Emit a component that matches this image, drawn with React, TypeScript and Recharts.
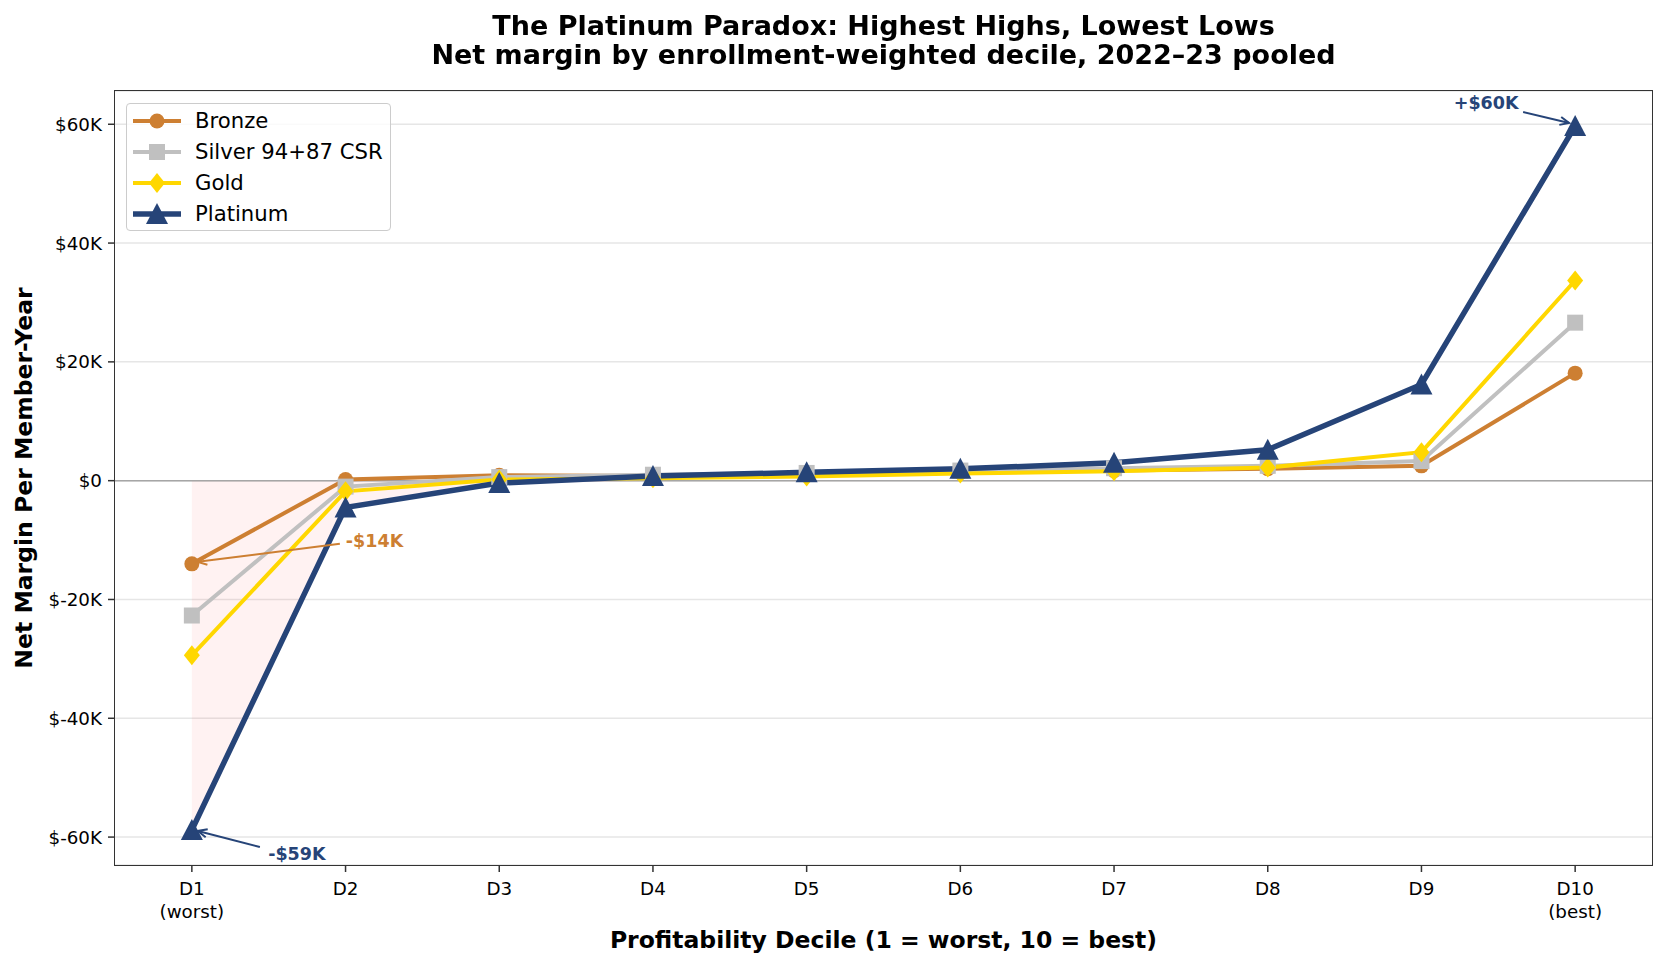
import {
  ComposedChart,
  Line,
  Area,
  XAxis,
  YAxis,
  CartesianGrid,
  ReferenceLine,
  ReferenceDot,
} from 'recharts';

// Net margin per member-year, $K, by profitability decile
const deciles = [1, 2, 3, 4, 5, 6, 7, 8, 9, 10];
const xTickLabels = ['D1\n(worst)', 'D2', 'D3', 'D4', 'D5', 'D6', 'D7', 'D8', 'D9', 'D10\n(best)'];
const bronze = [-14.0, 0.2, 0.9, 0.8, 1.1, 1.4, 1.7, 2.0, 2.5, 18.1];
const silver = [-22.7, -1.0, 0.6, 1.0, 1.3, 1.7, 2.1, 2.5, 3.3, 26.6];
const gold = [-29.4, -1.8, 0.2, 0.4, 0.7, 1.2, 1.6, 2.2, 4.8, 33.7];
const platinum = [-58.8, -4.5, -0.4, 0.8, 1.4, 2.0, 3.0, 5.2, 16.2, 59.7];
const yTicks = [-60, -40, -20, 0, 20, 40, 60];

const FONT = '"DejaVu Sans", sans-serif';
const W = 1666;
const H = 965;
const PLOT = { left: 115, top: 91, right: 1652, bottom: 865 };

const COLORS = {
  bronze: '#CD7F32',
  silver: '#C0C0C0',
  gold: '#FFD700',
  platinum: '#264478',
};

const data = deciles.map((d, i) => ({
  decile: d,
  bronze: bronze[i],
  silver: silver[i],
  gold: gold[i],
  platinum: platinum[i],
  platNeg: Math.min(platinum[i], 0),
}));

const fmtY = (v: number) => (v === 0 ? '$0' : `$${v}K`);

// marker shapes
const circlePts = (cx: number, cy: number) => ({ cx, cy, r: 7.5 });
const squareRect = (cx: number, cy: number) => ({ x: cx - 8, y: cy - 8, width: 16, height: 16 });
const diamondPts = (cx: number, cy: number) =>
  `${cx},${cy - 10} ${cx + 8},${cy} ${cx},${cy + 10} ${cx - 8},${cy}`;
const trianglePts = (cx: number, cy: number) =>
  `${cx},${cy - 11} ${cx + 11},${cy + 10} ${cx - 11},${cy + 10}`;

const circleDot = (color: string) => (p: any) => (
  <circle key={`c${p.index}`} {...circlePts(p.cx, p.cy)} fill={color} />
);
const squareDot = (color: string) => (p: any) => (
  <rect key={`s${p.index}`} {...squareRect(p.cx, p.cy)} fill={color} />
);
const diamondDot = (color: string) => (p: any) => (
  <polygon key={`d${p.index}`} points={diamondPts(p.cx, p.cy)} fill={color} />
);
const triangleDot = (color: string) => (p: any) => (
  <polygon key={`t${p.index}`} points={trianglePts(p.cx, p.cy)} fill={color} />
);

function XTick(props: any) {
  const { x, y, payload } = props;
  const lines = xTickLabels[payload.value - 1].split('\n');
  return (
    <g>
      {lines.map((l, i) => (
        <text
          key={i}
          x={x}
          y={y + 23 + i * 23}
          textAnchor="middle"
          fontFamily={FONT}
          fontSize={18.3}
          fill="#000"
        >
          {l}
        </text>
      ))}
    </g>
  );
}

// annotation: arrow from (sx,sy) to (tx,ty) and a label, all relative to the data point
function annotation(
  color: string,
  label: string,
  sx: number,
  sy: number,
  tx: number,
  ty: number,
  lx: number,
  ly: number,
  anchor: 'start' | 'middle' | 'end',
) {
  return (p: any) => {
    const x1 = p.cx + sx;
    const y1 = p.cy + sy;
    const x2 = p.cx + tx;
    const y2 = p.cy + ty;
    const ang = Math.atan2(y2 - y1, x2 - x1);
    const h = 10;
    const spread = 0.42;
    const ax = x2 - h * Math.cos(ang - spread);
    const ay = y2 - h * Math.sin(ang - spread);
    const bx = x2 - h * Math.cos(ang + spread);
    const by = y2 - h * Math.sin(ang + spread);
    return (
      <g>
        <line x1={x1} y1={y1} x2={x2} y2={y2} stroke={color} strokeWidth={2} />
        <polyline
          points={`${ax},${ay} ${x2},${y2} ${bx},${by}`}
          fill="none"
          stroke={color}
          strokeWidth={2}
        />
        <text
          x={p.cx + lx}
          y={p.cy + ly}
          textAnchor={anchor}
          dominantBaseline="central"
          fontFamily={FONT}
          fontSize={17.5}
          fontWeight="bold"
          fill={color}
        >
          {label}
        </text>
      </g>
    );
  };
}

const legendItems = [
  { name: 'Bronze', color: COLORS.bronze, kind: 'circle', width: 4 },
  { name: 'Silver 94+87 CSR', color: COLORS.silver, kind: 'square', width: 4 },
  { name: 'Gold', color: COLORS.gold, kind: 'diamond', width: 4 },
  { name: 'Platinum', color: COLORS.platinum, kind: 'triangle', width: 5.5 },
];

function LegendIcon({ color, kind, width }: { color: string; kind: string; width: number }) {
  const cx = 24;
  const cy = 13;
  let marker;
  if (kind === 'circle') marker = <circle {...circlePts(cx, cy)} fill={color} />;
  else if (kind === 'square') marker = <rect {...squareRect(cx, cy)} fill={color} />;
  else if (kind === 'diamond') marker = <polygon points={diamondPts(cx, cy)} fill={color} />;
  else marker = <polygon points={trianglePts(cx, cy)} fill={color} />;
  return (
    <svg width={48} height={26} style={{ display: 'block' }}>
      <line x1={0} y1={cy} x2={48} y2={cy} stroke={color} strokeWidth={width} />
      {marker}
    </svg>
  );
}

export default function App() {
  const plotW = PLOT.right - PLOT.left;
  const plotH = PLOT.bottom - PLOT.top;
  return (
    <div
      style={{
        position: 'fixed',
        left: 0,
        top: 0,
        width: W,
        height: H,
        background: '#fff',
        fontFamily: FONT,
      }}
    >
      <ComposedChart
        width={W}
        height={H}
        data={data}
        margin={{ top: PLOT.top, right: W - PLOT.right, bottom: 0, left: 0 }}
      >
        <CartesianGrid vertical={false} stroke="#e6e6e6" strokeWidth={1.5} />
        <XAxis
          dataKey="decile"
          type="number"
          domain={[0.5, 10.5]}
          ticks={deciles}
          height={H - PLOT.bottom}
          tickSize={7}
          tickMargin={0}
          axisLine={false}
          tickLine={{ stroke: '#333', strokeWidth: 1.5 }}
          tick={<XTick />}
          interval={0}
        />
        <YAxis
          type="number"
          domain={[-64.7, 65.6]}
          ticks={yTicks}
          width={PLOT.left}
          tickSize={7}
          tickMargin={6}
          axisLine={false}
          tickLine={{ stroke: '#333', strokeWidth: 1.5 }}
          tick={{ fill: '#000', fontSize: 18.3, fontFamily: FONT }}
          tickFormatter={fmtY}
          allowDataOverflow
        />
        <Area
          dataKey="platNeg"
          type="linear"
          baseValue={0}
          fill="#ff0000"
          fillOpacity={0.05}
          stroke="#ff0000"
          strokeOpacity={0.05}
          isAnimationActive={false}
          dot={false}
          activeDot={false}
        />
        <ReferenceLine y={0} stroke="#a6a6a6" strokeWidth={1.5} />
        <Line
          dataKey="bronze"
          type="linear"
          stroke={COLORS.bronze}
          strokeWidth={4}
          dot={circleDot(COLORS.bronze)}
          activeDot={false}
          isAnimationActive={false}
        />
        <Line
          dataKey="silver"
          type="linear"
          stroke={COLORS.silver}
          strokeWidth={4}
          dot={squareDot(COLORS.silver)}
          activeDot={false}
          isAnimationActive={false}
        />
        <Line
          dataKey="gold"
          type="linear"
          stroke={COLORS.gold}
          strokeWidth={4}
          dot={diamondDot(COLORS.gold)}
          activeDot={false}
          isAnimationActive={false}
        />
        <Line
          dataKey="platinum"
          type="linear"
          stroke={COLORS.platinum}
          strokeWidth={5.5}
          dot={triangleDot(COLORS.platinum)}
          activeDot={false}
          isAnimationActive={false}
        />
        <ReferenceDot
          x={10}
          y={platinum[9]}
          r={0}
          shape={annotation(COLORS.platinum, '+$60K', -52, -14, -6, -3, -89, -23, 'middle')}
        />
        <ReferenceDot
          x={1}
          y={platinum[0]}
          r={0}
          shape={annotation(COLORS.platinum, '-$59K', 68, 17, 6, 1, 105, 24, 'middle')}
        />
        <ReferenceDot
          x={1}
          y={bronze[0]}
          r={0}
          shape={annotation(COLORS.bronze, '-$14K', 148, -20, 6, -2, 154, -23, 'start')}
        />
      </ComposedChart>

      {/* axes frame */}
      <div
        style={{
          position: 'absolute',
          left: PLOT.left - 0.75,
          top: PLOT.top - 0.75,
          width: plotW,
          height: plotH,
          border: '1.5px solid #333',
          pointerEvents: 'none',
        }}
      />

      {/* title */}
      <div
        style={{
          position: 'absolute',
          left: PLOT.left - 100,
          width: plotW + 200,
          top: 10.5,
          textAlign: 'center',
          fontWeight: 'bold',
          fontSize: 27,
          lineHeight: '29.5px',
          color: '#000',
        }}
      >
        The Platinum Paradox: Highest Highs, Lowest Lows
        <br />
        Net margin by enrollment-weighted decile, 2022–23 pooled
      </div>

      {/* axis labels */}
      <div
        style={{
          position: 'absolute',
          left: PLOT.left,
          width: plotW,
          top: 940 - 14,
          textAlign: 'center',
          fontWeight: 'bold',
          fontSize: 23.5,
          lineHeight: '28px',
        }}
      >
        Profitability Decile (1 = worst, 10 = best)
      </div>
      <div
        style={{
          position: 'absolute',
          left: 24 - 300,
          top: (PLOT.top + PLOT.bottom) / 2 - 14,
          width: 600,
          textAlign: 'center',
          fontWeight: 'bold',
          fontSize: 23.5,
          lineHeight: '28px',
          transform: 'rotate(-90deg)',
        }}
      >
        Net Margin Per Member-Year
      </div>

      {/* legend */}
      <div
        style={{
          position: 'absolute',
          left: 126,
          top: 103,
          width: 265,
          height: 128,
          boxSizing: 'border-box',
          border: '1px solid #cccccc',
          borderRadius: 4,
          background: 'rgba(255,255,255,0.8)',
          padding: '2px 0 0 6px',
        }}
      >
        {legendItems.map((it) => (
          <div key={it.name} style={{ display: 'flex', alignItems: 'center', height: 30.8 }}>
            <LegendIcon color={it.color} kind={it.kind} width={it.width} />
            <span style={{ marginLeft: 14, fontSize: 21.2, color: '#000', lineHeight: '26px' }}>{it.name}</span>
          </div>
        ))}
      </div>
    </div>
  );
}
